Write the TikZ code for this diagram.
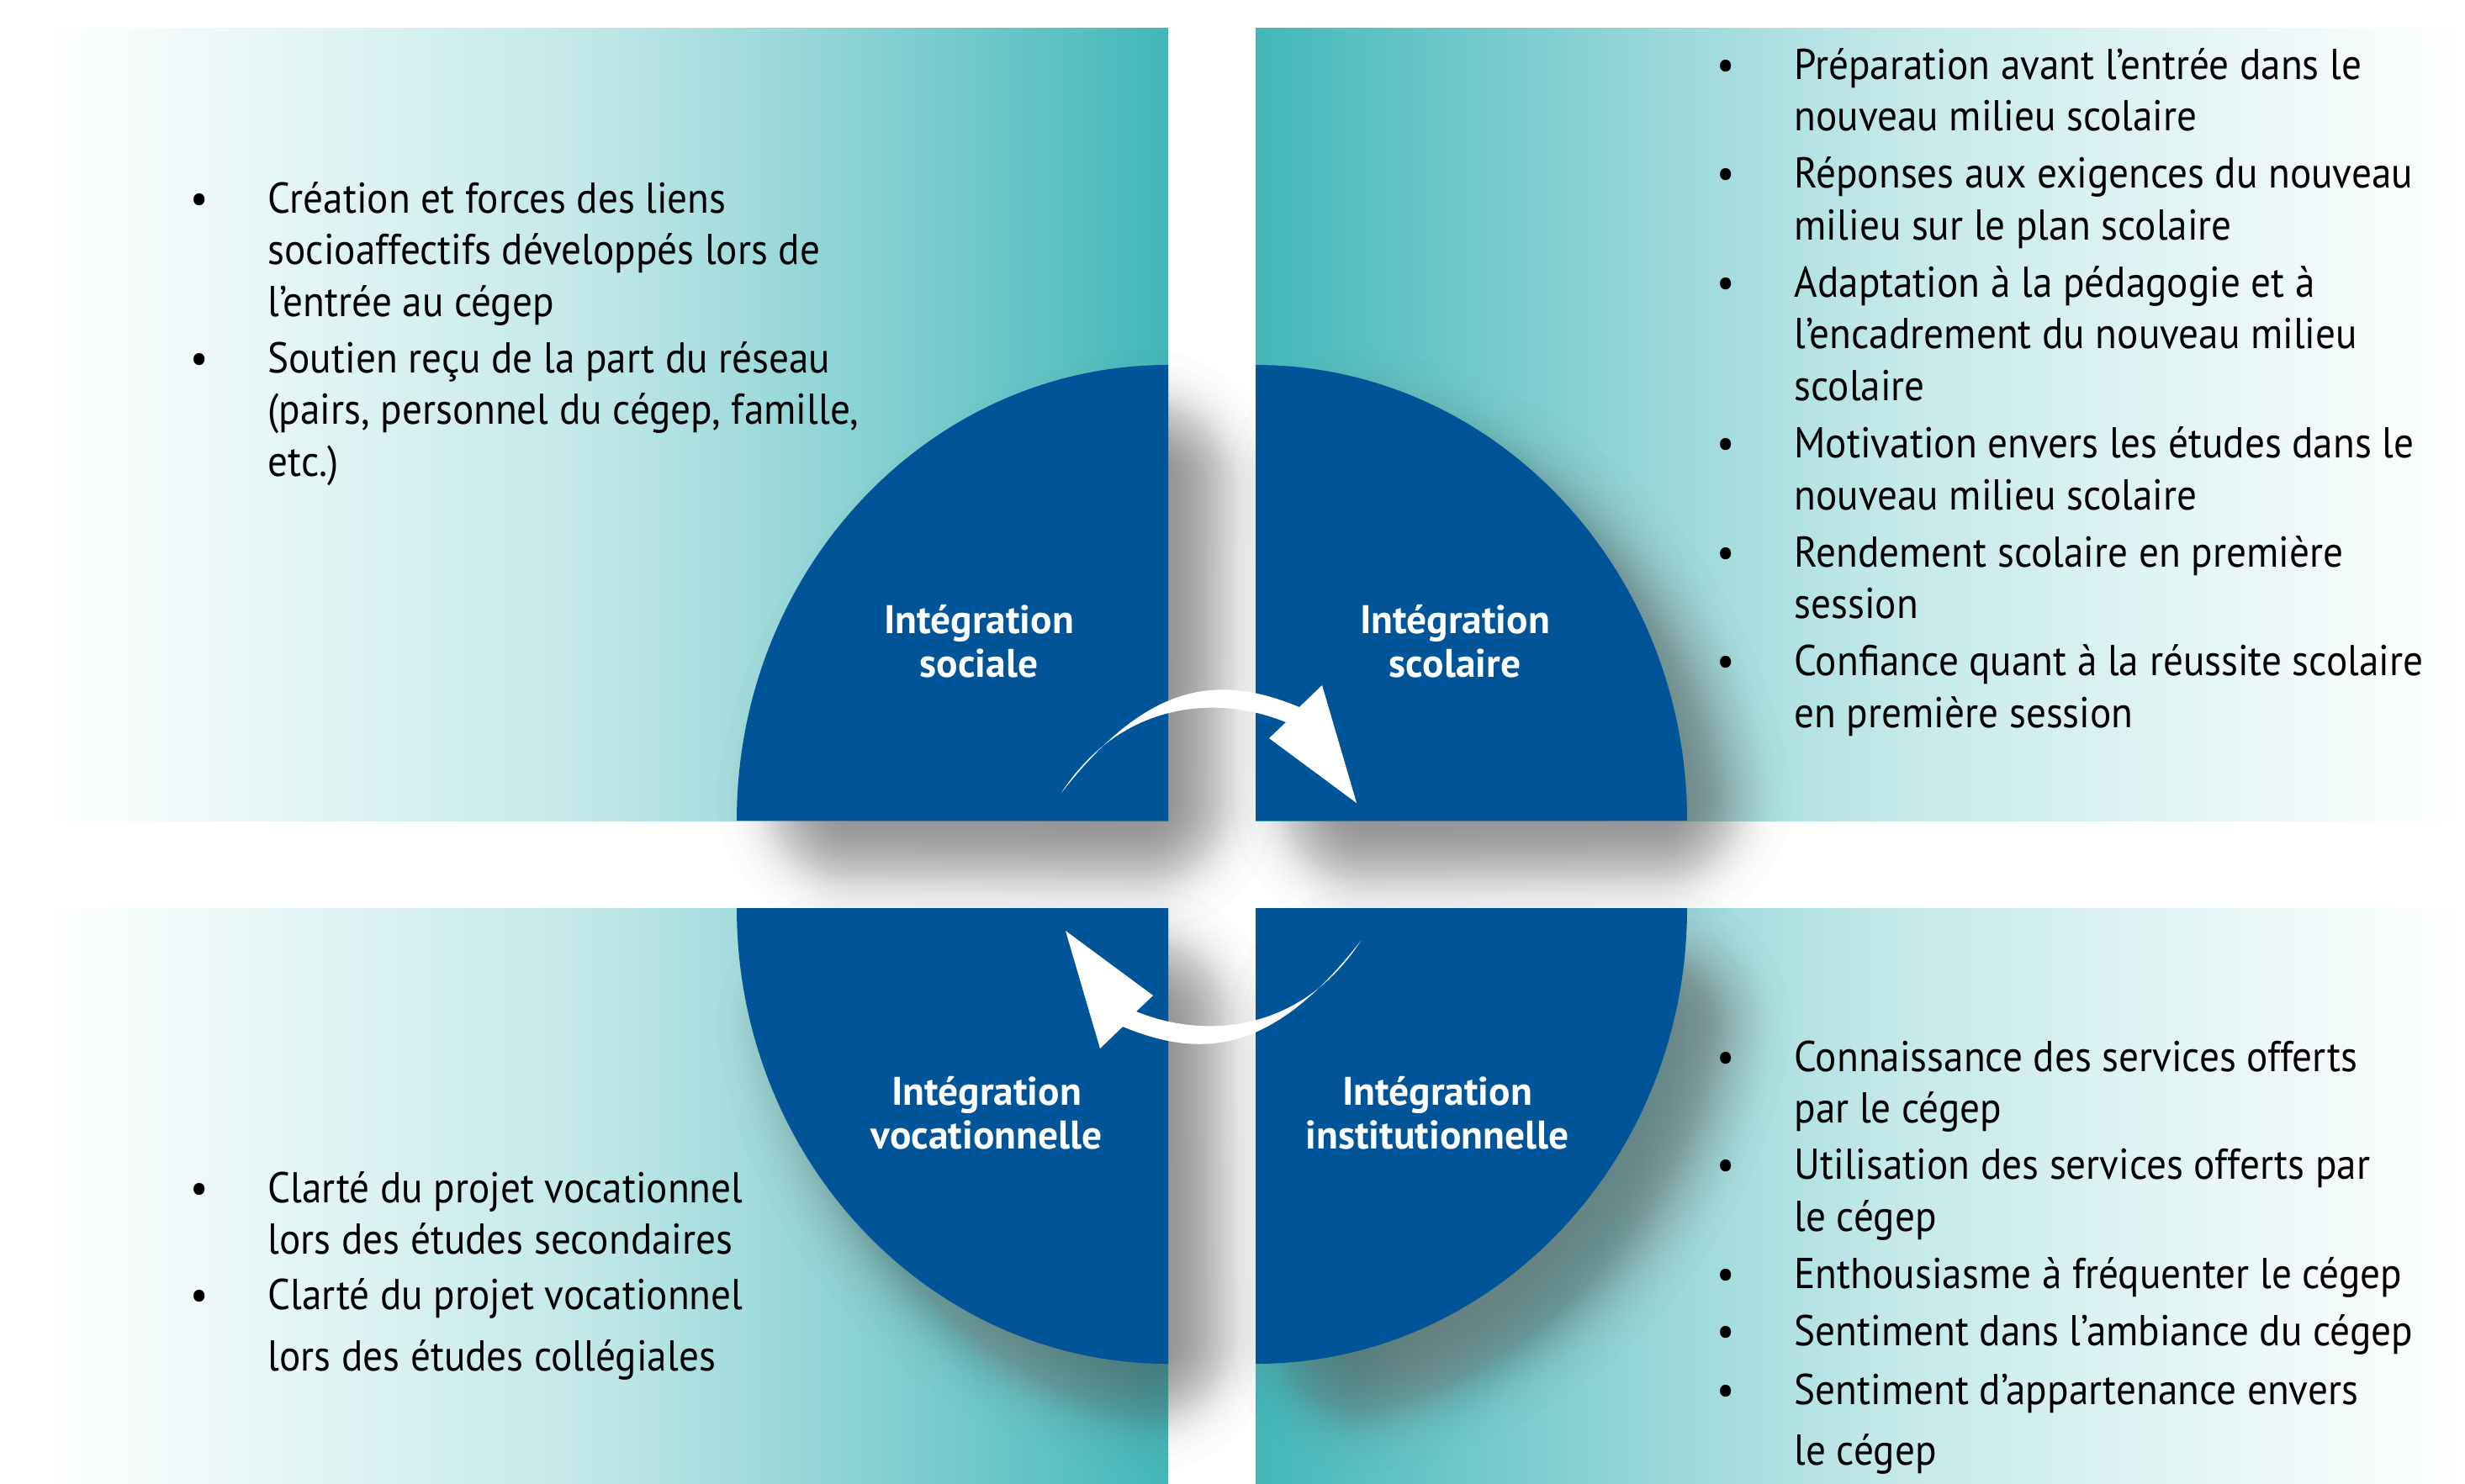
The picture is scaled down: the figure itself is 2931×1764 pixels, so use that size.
\documentclass[tikz,border=0pt]{standalone}
\usepackage{fontspec}
\setmainfont{PT Sans}[FakeStretch=0.92]
\newfontfamily\labelfont{PT Sans}
\definecolor{panelteal}{RGB}{66,183,184}
\definecolor{discblue}{RGB}{0,85,153}
\pgfdeclarehorizontalshading{panelfade}{100bp}{color(0bp)=(white); color(25bp)=(white);
  color(40bp)=(panelteal!19!white); color(49bp)=(panelteal!32!white);
  color(56.5bp)=(panelteal!50!white); color(65bp)=(panelteal!72!white);
  color(75bp)=(panelteal); color(100bp)=(panelteal)}
\newcommand{\bul}{\makebox[23.3pt][l]{\makebox[0pt]{\textbullet}}}
\begin{document}
\begin{tikzpicture}[x=0.1mm, y=-0.1mm,
    panel/.style={shading=panelfade},
    shadowband/.style={draw=black!60, draw opacity=0.021, line join=round},
    quarter/.style={fill=discblue},
    disclabel/.style={text=white, inner sep=0pt, anchor=base,
      font=\labelfont\fontsize{13.5pt}{14.8pt}\selectfont\bfseries},
    itemlist/.style={inner sep=0pt, anchor=base west,
      font=\fontsize{14.6pt}{17.5pt}\selectfont}]
    \useasboundingbox (0,0) rectangle (2931,1764);
    \fill[white] (0,0) rectangle (2931,1764);
    % Panels
    \shade[panel] (52,33) rectangle (1389,976);
    \shade[panel, shading angle=180] (1493,33) rectangle (2931,976);
    \shade[panel] (52,1080) rectangle (1389,1764);
    \shade[panel, shading angle=180] (1493,1080) rectangle (2931,1764);
    % Soft shadow: bands round each quarter, shrunk by 82 and shifted (50,55)
    \foreach \w in {1,17,25,31,36,40,43,47,50,52,55,57,59,62,64,66,68,70,72,74,76,77,79,81,
                    83,85,87,88,90,92,94,96,98,100,102,105,107,109,112,114,117,121,124,128,133,139,147,163}
      \foreach \cx/\cy/\a in {1389/976/180, 1493/976/270, 1493/1080/0, 1389/1080/90}
        \draw[shadowband, line width=\w*0.2mm, shift={(50,55)}]
          ({\cx+116*cos(\a+45)},{\cy+116*sin(\a+45)}) -- ({\cx+431*cos(\a+10.6)},{\cy+460*sin(\a+10.6)})
          arc[start angle={\a+10.6}, end angle={\a+79.4}, x radius=431, y radius=460] -- cycle;
    % Quarters
    \foreach \cx/\cy/\a in {1389/976/180, 1493/976/270, 1493/1080/0, 1389/1080/90}
      \fill[quarter] (\cx,\cy) -- +({513*cos(\a)},{542*sin(\a)})
        arc[start angle=\a, delta angle=90, x radius=513, y radius=542] -- cycle;
    % Cycle arrows
    \coordinate (ctr) at (1440,1031);
    \foreach \ang in {0,180}
      \fill[white, rotate around={\ang:(ctr)}] (1262,943) .. controls (1362,815) and (1444,799) .. (1545,841)
        -- (1572,815) -- (1613,955) -- (1509,878) -- (1529,859)
        .. controls (1446,825) and (1332,835) .. (1262,943) -- cycle;
    % Labels
    \node[disclabel] (sociale) at (1164,753) {\begin{tabular}[t]{@{}c@{}}Intégration\\sociale\end{tabular}};
    \node[disclabel] (scolaire) at (1730,753) {\begin{tabular}[t]{@{}c@{}}Intégration\\scolaire\end{tabular}};
    \node[disclabel] (vocation) at (1173,1314) {\begin{tabular}[t]{@{}c@{}}Intégration\\vocationnelle\end{tabular}};
    \node[disclabel] (institution) at (1709,1314) {\begin{tabular}[t]{@{}c@{}}Intégration\\institutionnelle\end{tabular}};
    % Item lists
    \node[itemlist] (socialitems) at (236,253) {\begin{tabular}[t]{@{}l@{}l@{}}
      \bul & Création et forces des liens\\
           & socioaffectifs développés lors de\\
           & l’entrée au cégep\\[1.6pt]
      \bul & Soutien reçu de la part du réseau\\
           & (pairs, personnel du cégep, famille,\\
           & etc.)
      \end{tabular}};
    \node[itemlist] (scolaireitems) at (2051,94) {\begin{tabular}[t]{@{}l@{}l@{}}
      \bul & Préparation avant l’entrée dans le\\
           & nouveau milieu scolaire\\[1.9pt]
      \bul & Réponses aux exigences du nouveau\\
           & milieu sur le plan scolaire\\[1.9pt]
      \bul & Adaptation à la pédagogie et à\\
           & l’encadrement du nouveau milieu\\
           & scolaire\\[1.9pt]
      \bul & Motivation envers les études dans le\\
           & nouveau milieu scolaire\\[1.9pt]
      \bul & Rendement scolaire en première\\
           & session\\[1.9pt]
      \bul & Confiance quant à la réussite scolaire\\
           & en première session
      \end{tabular}};
    \node[itemlist] (vocationitems) at (236,1430) {\begin{tabular}[t]{@{}l@{}l@{}}
      \bul & Clarté du projet vocationnel\\
           & lors des études secondaires\\[1.3pt]
      \bul & Clarté du projet vocationnel\\[3.2pt]
           & lors des études collégiales
      \end{tabular}};
    \node[itemlist] (institutionitems) at (2051,1274) {\begin{tabular}[t]{@{}l@{}l@{}}
      \bul & Connaissance des services offerts\\
           & par le cégep\\[1.6pt]
      \bul & Utilisation des services offerts par\\
           & le cégep\\[2pt]
      \bul & Enthousiasme à fréquenter le cégep\\[1.9pt]
      \bul & Sentiment dans l’ambiance du cégep\\[2.3pt]
      \bul & Sentiment d’appartenance envers\\[2.9pt]
           & le cégep
      \end{tabular}};
\end{tikzpicture}
\end{document}
